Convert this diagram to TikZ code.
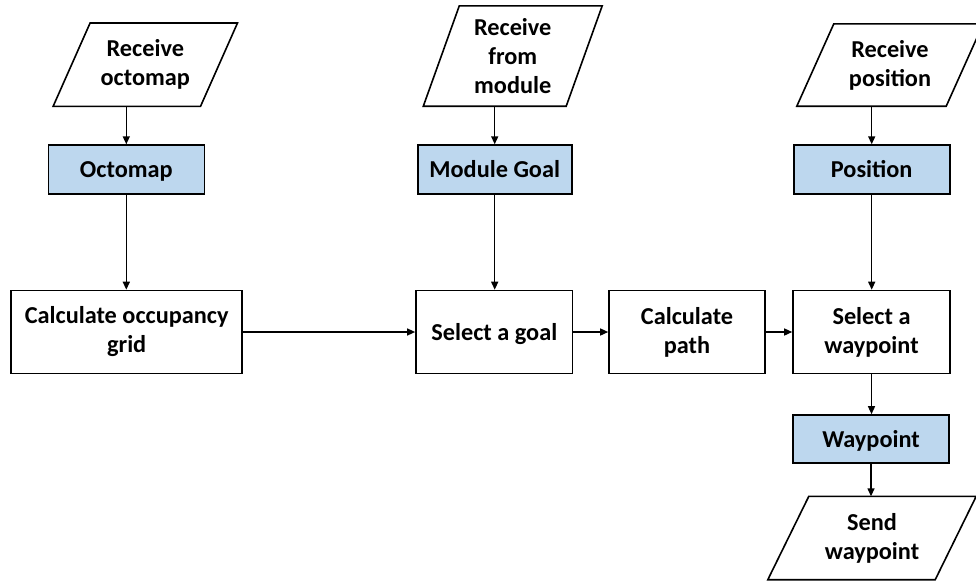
\documentclass[tikz,border=0pt]{standalone}
\usepackage{fontspec}
\setmainfont{Carlito}
\usetikzlibrary{arrows.meta}
\definecolor{storeblue}{RGB}{189,215,238}
% outline of a slanted input/output box around a named node; #2 = horizontal skew
\newcommand\skewoutline[2]{%
  \draw[outline] ([xshift=-#2/2]#1.south west) -- ([xshift=#2/2]#1.north west)
    -- ([xshift=#2/2]#1.north east) -- ([xshift=-#2/2]#1.south east) -- cycle;}
\begin{document}
\begin{tikzpicture}[x=1pt,y=-1pt,
  every node/.style={font=\bfseries\fontsize{24.3}{29}\selectfont, align=center, inner sep=0pt},
  oneline/.style={text height=16pt, text depth=0pt},
  procbox/.style={draw=black, line width=1.6pt, fill=white, minimum height=83pt},
  databox/.style={draw=black, line width=1.6pt, fill=storeblue, minimum width=156pt, minimum height=49pt, oneline},
  iobody/.style={minimum height=83pt},
  outline/.style={draw=black, line width=1.6pt, line join=miter},
  arr/.style={line width=1.4pt, -{Triangle[length=8pt,width=7pt]}}]
\useasboundingbox (0,0) rectangle (976,581);

% input / output steps
\node[iobody, minimum width=147pt] (inmap) at (145.3,64.7) {Receive\\octomap};
\node[iobody, minimum width=142.5pt, minimum height=100pt] (inmod) at (512.75,56) {Receive\\from\\module};
\node[iobody, minimum width=149pt, minimum height=82pt] (inpos) at (890,65) {Receive\\position};
\node[iobody, minimum width=167pt] (outwp) at (872,538) {Send\\waypoint};
\skewoutline{inmap}{37}
\skewoutline{inmod}{36}
\skewoutline{inpos}{37}
\skewoutline{outwp}{41}

% data
\node[databox] (octomap) at (126.3,169.6) {Octomap};
\node[databox, minimum width=154pt] (modgoal) at (494.7,169.6) {Module Goal};
\node[databox] (position) at (871.7,169.6) {Position};
\node[databox, minimum height=48pt] (wp) at (871,439) {Waypoint};

% processing steps
\node[procbox, minimum width=231pt] (grid) at (126.7,332) {Calculate occupancy\\grid};
\node[procbox, oneline, minimum width=156.7pt] (selgoal) at (494.3,332) {Select a goal};
\node[procbox, minimum width=156pt] (path) at (687,332) {Calculate\\path};
\node[procbox, minimum width=157pt] (selwp) at (871.5,332) {Select a\\waypoint};

% flow
\draw[arr] (inmap.south -| octomap.north) -- (octomap.north);
\draw[arr] (inmod.south -| modgoal.north) -- (modgoal.north);
\draw[arr] (inpos.south -| position.north) -- (position.north);
\draw[arr] (octomap.south) -- (octomap.south |- grid.north);
\draw[arr] (modgoal.south) -- (modgoal.south |- selgoal.north);
\draw[arr] (position.south) -- (position.south |- selwp.north);
\draw[arr] (grid.east) -- (selgoal.west);
\draw[arr] (selgoal.east) -- (path.west);
\draw[arr] (path.east) -- (selwp.west);
\draw[arr] (selwp.south) -- (selwp.south |- wp.north);
\draw[arr] (wp.south) -- (wp.south |- outwp.north);
\end{tikzpicture}
\end{document}
